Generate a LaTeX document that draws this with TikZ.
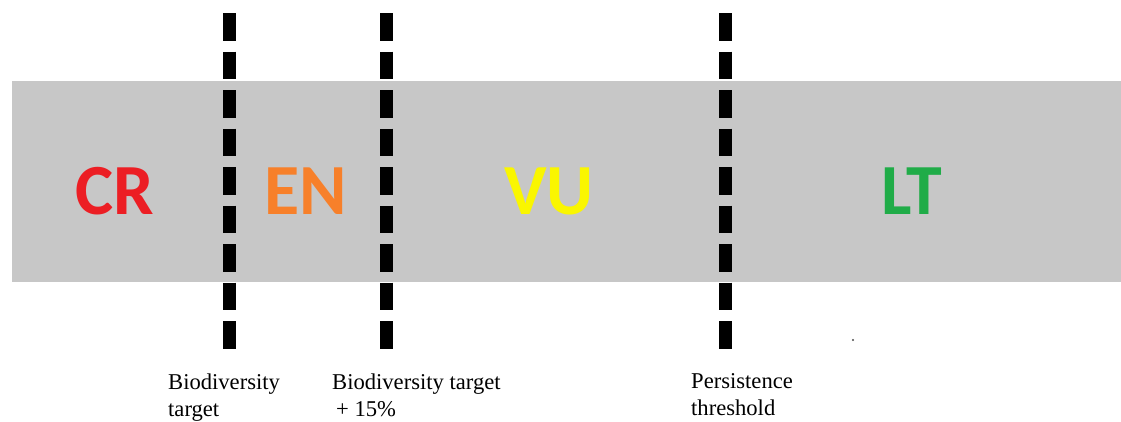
\documentclass[tikz,border=0pt]{standalone}
\usepackage{fontspec}
\setmainfont{Liberation Serif}
\newfontfamily\calibri{Carlito}
\usetikzlibrary{calc,backgrounds}
\definecolor{bandgris}{RGB}{199,199,199}
\definecolor{rougecr}{RGB}{236,30,36}
\definecolor{orangeen}{RGB}{247,128,42}
\definecolor{jauneveu}{RGB}{250,246,0}
\definecolor{vertlt}{RGB}{32,172,72}

\begin{document}
\begin{tikzpicture}[%
    x=1pt, y=-1pt,%
    show background rectangle,%
    tight background,%
    background rectangle/.style={fill=white}%
    ]
    % Styles
    \tikzset{categorie/.style={inner sep=0, font=\calibri\bfseries\fontsize{72}{72}\selectfont}}%
    \tikzset{seuil/.style={line width=13pt, dash pattern=on 27.5pt off 11pt, black}}%
    \tikzset{legende/.style={anchor=north west, inner sep=0, align=left, font=\fontsize{22.6}{27}\selectfont}}%

    % Paramètres
    \pgfmathsetmacro{\haut}{13}%
    \pgfmathsetmacro{\bas}{348.5}%
    \pgfmathsetmacro{\xa}{229.5}%
    \pgfmathsetmacro{\xb}{386}%
    \pgfmathsetmacro{\xc}{725}%

    \useasboundingbox (0,0) rectangle (1121,421);%

    % Bande
    \fill[bandgris] (12,81) rectangle (1121,282);%

    % Catégories
    \node[categorie, text=rougecr] (cr) at (115,191) {CR};%
    \node[categorie, text=orangeen] (en) at (306,191) {EN};%
    \node[categorie, text=jauneveu] (vu) at (549,191) {VU};%
    \node[categorie, text=vertlt] (lt) at (912,191) {LT};%

    % Seuils
    \coordinate (a haut) at (\xa,\haut);%
    \coordinate (a bas) at (\xa,\bas);%
    \coordinate (b haut) at (\xb,\haut);%
    \coordinate (b bas) at (\xb,\bas);%
    \coordinate (c haut) at (\xc,\haut);%
    \coordinate (c bas) at (\xc,\bas);%
    \draw[seuil] (a haut) -- (a bas);%
    \draw[seuil] (b haut) -- (b bas);%
    \draw[seuil] (c haut) -- (c bas);%

    % Légendes
    \node[legende] (cible) at (168,374) {Biodiversity\\target};%
    \node[legende] (cible plus) at (332,374) {Biodiversity target\\\hspace{4pt}+ 15\%};%
    \node[legende] (persistance) at (691,373) {Persistence\\threshold};%

    % Point
    \fill[black!70] (853,340) circle[radius=1.2];%
\end{tikzpicture}
\end{document}
